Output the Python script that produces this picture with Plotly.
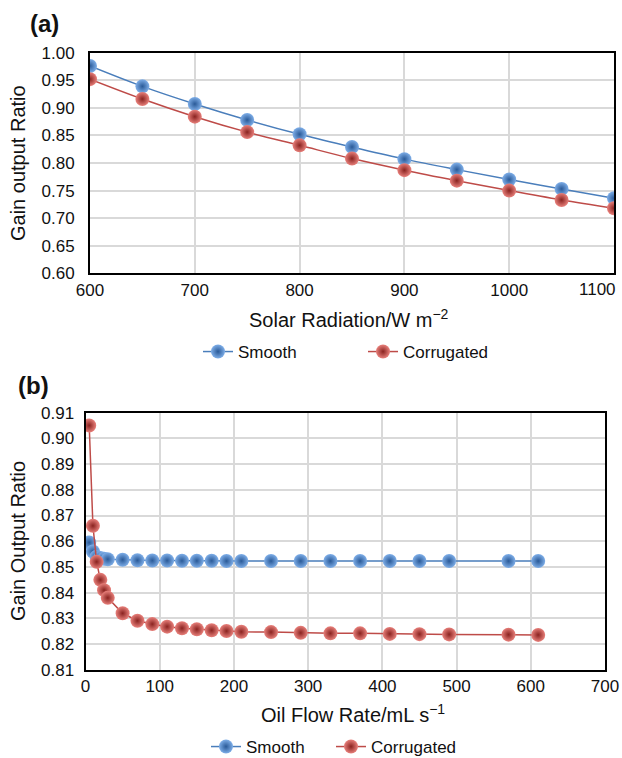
import plotly.graph_objects as go

# (a) gain output ratio versus solar radiation
solar_radiation = [600, 650, 700, 750, 800, 850, 900, 950, 1000, 1050, 1100]
solar_smooth = [0.976, 0.939, 0.907, 0.878, 0.852, 0.829, 0.807, 0.788, 0.770, 0.753, 0.736]
solar_corrugated = [0.952, 0.916, 0.884, 0.856, 0.832, 0.808, 0.787, 0.768, 0.750, 0.733, 0.718]
solar_ticks = [600, 700, 800, 900, 1000, 1100]

# (b) gain output ratio versus oil flow rate
flow_rate = [5, 10, 15, 20, 25, 30, 50, 70, 90, 110, 130, 150, 170, 190, 210,
             250, 290, 330, 370, 410, 450, 490, 570, 610]
flow_smooth = [0.8595, 0.8560, 0.8540, 0.8535, 0.8532, 0.8530, 0.8528, 0.8526,
               0.8525, 0.8525, 0.8524, 0.8524, 0.8524, 0.8523, 0.8523, 0.8523,
               0.8523, 0.8523, 0.8523, 0.8523, 0.8523, 0.8523, 0.8523, 0.8523]
flow_corrugated = [0.905, 0.866, 0.852, 0.845, 0.841, 0.838, 0.832, 0.8291,
                   0.8278, 0.8268, 0.8262, 0.8258, 0.8254, 0.8251, 0.8248, 0.8247,
                   0.8244, 0.8242, 0.8242, 0.8240, 0.8239, 0.8238, 0.8237, 0.8236]

series_names = ["Smooth", "Corrugated"]
panel_labels = ["(a)", "(b)"]

W, H = 622, 758
FONT = "Liberation Sans, Arial, Helvetica, sans-serif"
TXT = "#111"
BLUE_LINE, RED_LINE = "#4a7ebb", "#be4b48"
BLUE_HI, BLUE_DK = "#7eaee8", "#2a5a98"
RED_HI, RED_DK = "#e8807b", "#8a2320"
GRID = "#d9d9d9"


def px_x(p):
    return p / W


def px_y(p):
    return 1 - p / H


def sphere(hi, dk):
    return dict(size=14, color=hi, gradient=dict(type="radial", color=dk),
                line=dict(width=0))


fig = go.Figure()

fig.add_trace(go.Scatter(
    x=solar_radiation, y=solar_smooth, name=series_names[0],
    mode="lines+markers", line=dict(color=BLUE_LINE, width=1.5, shape="spline"),
    marker=sphere(BLUE_HI, BLUE_DK), xaxis="x", yaxis="y", legend="legend"))
fig.add_trace(go.Scatter(
    x=solar_radiation, y=solar_corrugated, name=series_names[1],
    mode="lines+markers", line=dict(color=RED_LINE, width=1.5, shape="spline"),
    marker=sphere(RED_HI, RED_DK), xaxis="x", yaxis="y", legend="legend"))

fig.add_trace(go.Scatter(
    x=flow_rate, y=flow_smooth, name=series_names[0],
    mode="lines+markers", line=dict(color=BLUE_LINE, width=1.5),
    marker=sphere(BLUE_HI, BLUE_DK), xaxis="x2", yaxis="y2", legend="legend2"))
fig.add_trace(go.Scatter(
    x=flow_rate, y=flow_corrugated, name=series_names[1],
    mode="lines+markers", line=dict(color=RED_LINE, width=1.5),
    marker=sphere(RED_HI, RED_DK), xaxis="x2", yaxis="y2", legend="legend2"))

axis_common = dict(
    showgrid=True, gridcolor=GRID, gridwidth=1.5,
    showline=True, linecolor="black", linewidth=2, mirror=True,
    ticks="", zeroline=False, automargin=False,
    tickfont=dict(family=FONT, size=17, color=TXT),
)

# the last solar tick sits at the page edge; its label is written separately,
# right-aligned so it stays inside the page
solar_ticktext = [str(v) for v in solar_ticks[:-1]] + [""]

fig.update_layout(
    width=W, height=H,
    margin=dict(l=0, r=0, t=0, b=0, pad=0, autoexpand=False),
    paper_bgcolor="white", plot_bgcolor="white",
    font=dict(family=FONT, color=TXT),
    xaxis=dict(axis_common, domain=[px_x(90), px_x(614)], anchor="y",
               range=[600, 1100], tickvals=solar_ticks, ticktext=solar_ticktext,
               ticklabelstandoff=0),
    yaxis=dict(axis_common, domain=[px_y(273.3), px_y(52.7)], anchor="x",
               range=[0.60, 1.00], dtick=0.05, tickformat=".2f",
               ticklabelstandoff=10),
    xaxis2=dict(axis_common, domain=[px_x(85.5), px_x(605)], anchor="y2",
                range=[0, 700], dtick=100, ticklabelstandoff=0),
    yaxis2=dict(axis_common, domain=[px_y(669.9), px_y(412.6)], anchor="x2",
                range=[0.81, 0.91], dtick=0.01, tickformat=".2f",
                ticklabelstandoff=6),
    legend=dict(orientation="h", x=px_x(198), y=px_y(352), xanchor="left",
                yanchor="middle", font=dict(family=FONT, size=17, color=TXT),
                entrywidth=120, bgcolor="rgba(0,0,0,0)", traceorder="normal"),
    legend2=dict(orientation="h", x=px_x(206), y=px_y(747), xanchor="left",
                 yanchor="middle", font=dict(family=FONT, size=17, color=TXT),
                 entrywidth=80, bgcolor="rgba(0,0,0,0)", traceorder="normal"),
)

annotations = [
    dict(text="<b>%s</b>" % panel_labels[0], x=px_x(44), y=px_y(23)),
    dict(text="<b>%s</b>" % panel_labels[1], x=px_x(33), y=px_y(385)),
]
for a in annotations:
    a.update(xref="paper", yref="paper", showarrow=False,
             xanchor="center", yanchor="middle",
             font=dict(family=FONT, size=24, color=TXT))

titles = [
    dict(text="Gain output Ratio", x=px_x(18), y=px_y(163), textangle=-90),
    dict(text="Gain Output Ratio", x=px_x(18), y=px_y(541), textangle=-90),
    dict(text="Solar Radiation/W m<sup>\u22122</sup>", x=px_x(349), y=px_y(318)),
    dict(text="Oil Flow Rate/mL s<sup>\u22121</sup>", x=px_x(353), y=px_y(713)),
]
for t in titles:
    t.update(xref="paper", yref="paper", showarrow=False,
             xanchor="center", yanchor="middle",
             font=dict(family=FONT, size=20, color=TXT))

edge_label = dict(text=str(solar_ticks[-1]), xref="x", yref="paper",
                  x=solar_ticks[-1], y=px_y(289), xanchor="right",
                  yanchor="middle", xshift=4, showarrow=False,
                  font=dict(family=FONT, size=17, color=TXT))

fig.update_layout(annotations=annotations + titles + [edge_label])

fig.write_html("out.html")
